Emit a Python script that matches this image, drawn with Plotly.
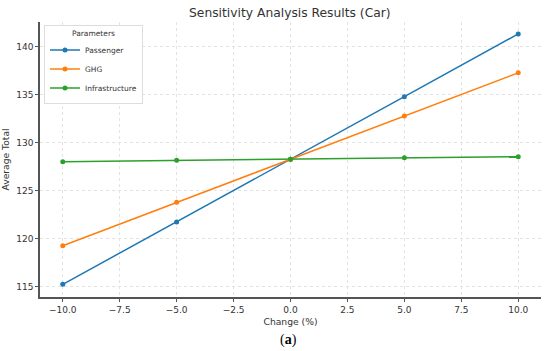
import plotly.graph_objects as go

change = [-10, -5, 0, 5, 10]
passenger = [115.25, 121.75, 128.3, 134.82, 141.36]
ghg = [119.28, 123.8, 128.3, 132.8, 137.3]
infrastructure = [128.04, 128.18, 128.3, 128.46, 128.56]

series = [("Passenger", passenger, "#1f77b4"),
          ("GHG", ghg, "#ff7f0e"),
          ("Infrastructure", infrastructure, "#2ca02c")]

fig = go.Figure()
for name, vals, col in series:
    fig.add_trace(go.Scatter(x=change, y=vals, mode="lines+markers", name=name,
                             line=dict(color=col, width=1.5),
                             marker=dict(color=col, size=5)))

fig.update_layout(
    width=550, height=351,
    margin=dict(l=40, r=9, t=22, b=54),
    paper_bgcolor="white", plot_bgcolor="white",
    font=dict(family="DejaVu Sans", color="#333333", size=9),
    title=dict(text="Sensitivity Analysis Results (Car)", x=0.527, xref="container", xanchor="center",
               y=0.963, yref="container", yanchor="middle", font=dict(size=12.3, color="#333333")),
    legend=dict(title=dict(text="Parameters", side="top center", font=dict(size=7.5)),
                x=0.008, y=0.99, xanchor="left", yanchor="top",
                bgcolor="rgba(255,255,255,0.9)", bordercolor="#dddddd", borderwidth=1,
                font=dict(size=7.5), itemwidth=30, tracegroupgap=0),
    xaxis=dict(range=[-11, 11], tickvals=[-10, -7.5, -5, -2.5, 0, 2.5, 5, 7.5, 10],
               ticktext=["\u221210.0", "\u22127.5", "\u22125.0", "\u22122.5", "0.0", "2.5", "5.0", "7.5", "10.0"],
               showgrid=True, gridcolor="#e3e3e3", griddash="dot", zeroline=False,
               showline=True, linecolor="#555555", linewidth=1.5,
               ticks="outside", ticklen=3, tickcolor="#555555", automargin=False,
               title=dict(text="Change (%)", standoff=5, font=dict(size=9.2))),
    yaxis=dict(range=[113.93, 142.6], tickvals=[115, 120, 125, 130, 135, 140],
               showgrid=True, gridcolor="#e3e3e3", griddash="dot", zeroline=False,
               showline=True, linecolor="#555555", linewidth=1.5,
               ticks="outside", ticklen=3, tickcolor="#555555", automargin=False,
               title=dict(text="Average Total", standoff=5, font=dict(size=9.2))),
)

fig.add_annotation(text="(<b>a</b>)", x=0.497, y=-0.155, xref="paper", yref="paper",
                   xanchor="center", yanchor="middle", showarrow=False,
                   font=dict(family="Liberation Serif", size=14, color="black"))

fig.write_html("out.html", config={"displayModeBar": False},
               post_script="document.body.style.margin='0';")
